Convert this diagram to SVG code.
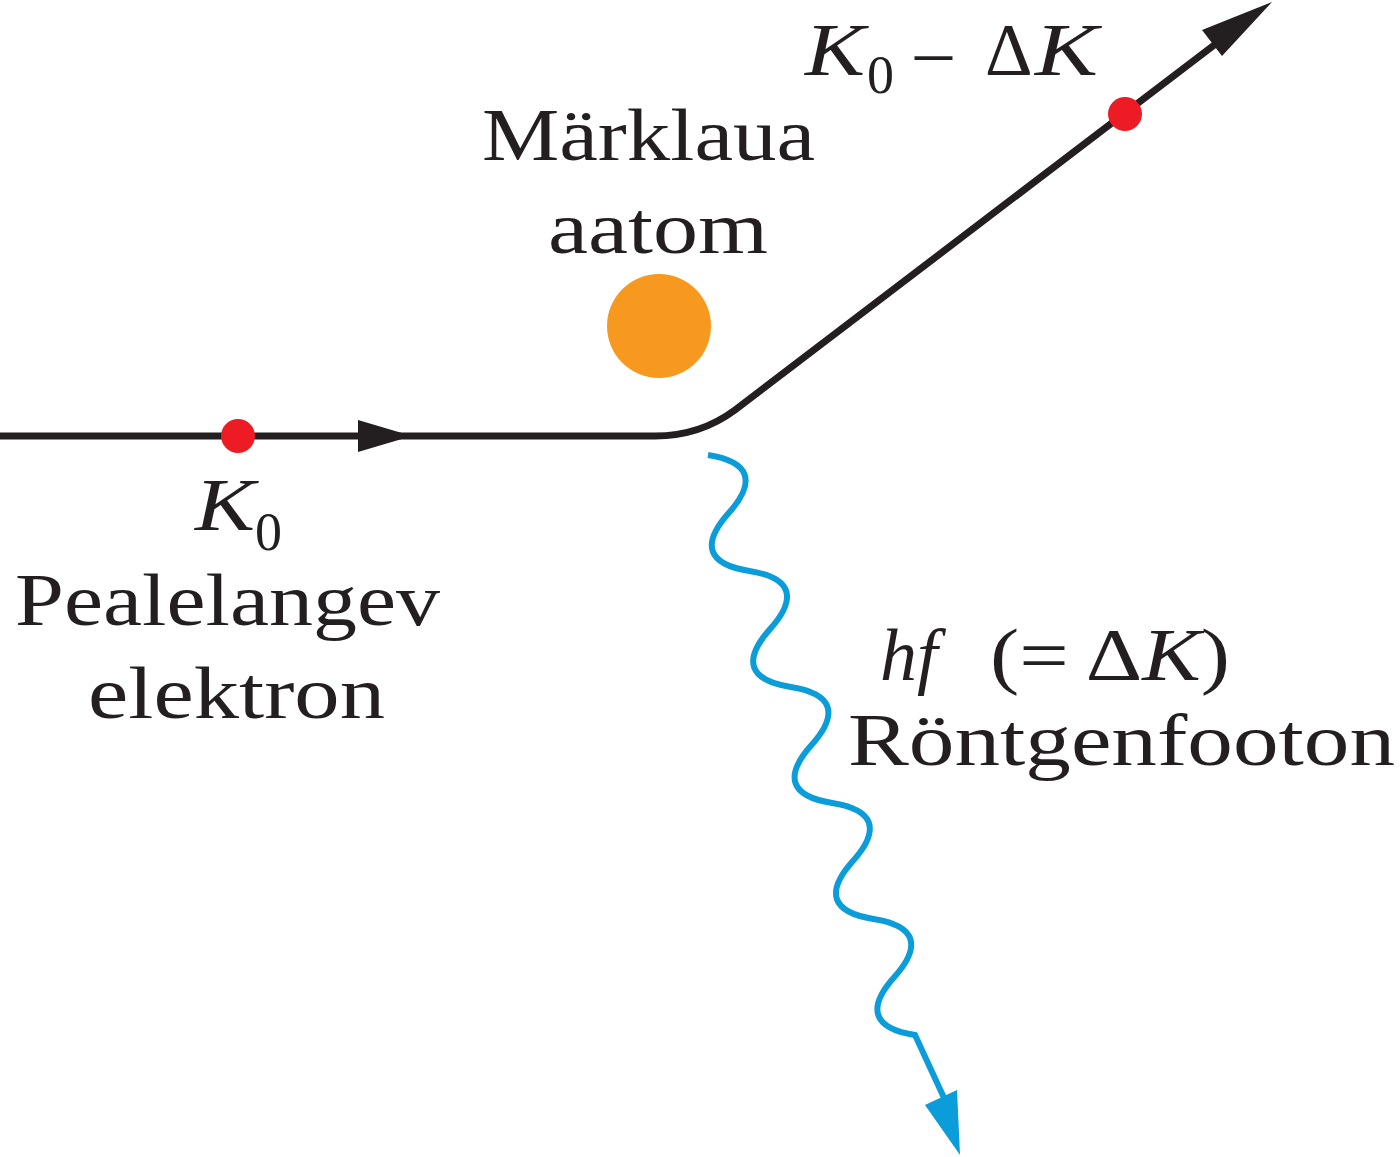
<svg xmlns="http://www.w3.org/2000/svg" width="1400" height="1157" viewBox="0 0 1400 1157">
<style>
text{font-family:"Liberation Serif","Times New Roman",serif;font-size:74px;fill:#231f20}
.i{font-style:italic}
.s{font-size:54px}
</style>
<rect width="1400" height="1157" fill="#fff"/>
<g id="connectors">
<path d="M0,436 L655,436 Q700,436 735,410 L1230,33" fill="none" stroke="#231f20" stroke-width="7"/>
<polygon points="1272,2 1222,56 1202,30" fill="#231f20"/>
<polygon points="412,436 358,420 358,452" fill="#231f20"/>
<path d="M708,455 C749.8,461.6 756.9,481.4 728.7,513 S707.6,564.4 749.4,571 S798.3,597.4 770.1,629 S749,680.4 790.8,687 S839.7,713.4 811.5,745 S790.4,796.4 832.2,803 S881.1,829.4 852.9,861 S831.8,912.4 873.6,919 S922.5,945.4 894.3,977 S873.2,1028.4 915,1035 L945,1100" fill="none" stroke="#0b9cda" stroke-width="6"/>
<polygon points="960,1155 925,1105 957,1090" fill="#0b9cda"/>
</g>
<g id="electron1"><circle cx="238" cy="436" r="17" fill="#ed1c24"/></g>
<g id="electron2"><circle cx="1125" cy="114" r="17" fill="#ed1c24"/></g>
<g id="atom"><circle cx="659" cy="326" r="52" fill="#f7991f"/></g>
<g id="labels">
<text x="482" y="160" textLength="333" lengthAdjust="spacingAndGlyphs">Märklaua</text>
<text x="548" y="253" textLength="220" lengthAdjust="spacingAndGlyphs">aatom</text>
<text x="805" y="75" class="i" textLength="60" lengthAdjust="spacingAndGlyphs">K</text>
<text x="867" y="93" class="s">0</text>
<text x="915" y="75">–</text>
<text x="985" y="75">Δ</text>
<text x="1035" y="75" class="i" textLength="63" lengthAdjust="spacingAndGlyphs">K</text>
<text x="195" y="530" class="i" textLength="60" lengthAdjust="spacingAndGlyphs">K</text>
<text x="255" y="550" class="s">0</text>
<text x="15" y="625" textLength="425" lengthAdjust="spacingAndGlyphs">Pealelangev</text>
<text x="88" y="718" textLength="297" lengthAdjust="spacingAndGlyphs">elektron</text>
<text x="880" y="680" class="i">hf</text>
<text x="990" y="680" textLength="240" lengthAdjust="spacingAndGlyphs">(= Δ<tspan class="i">K</tspan>)</text>
<text x="848" y="765" textLength="547" lengthAdjust="spacingAndGlyphs">Röntgenfooton</text>
</g>
</svg>
